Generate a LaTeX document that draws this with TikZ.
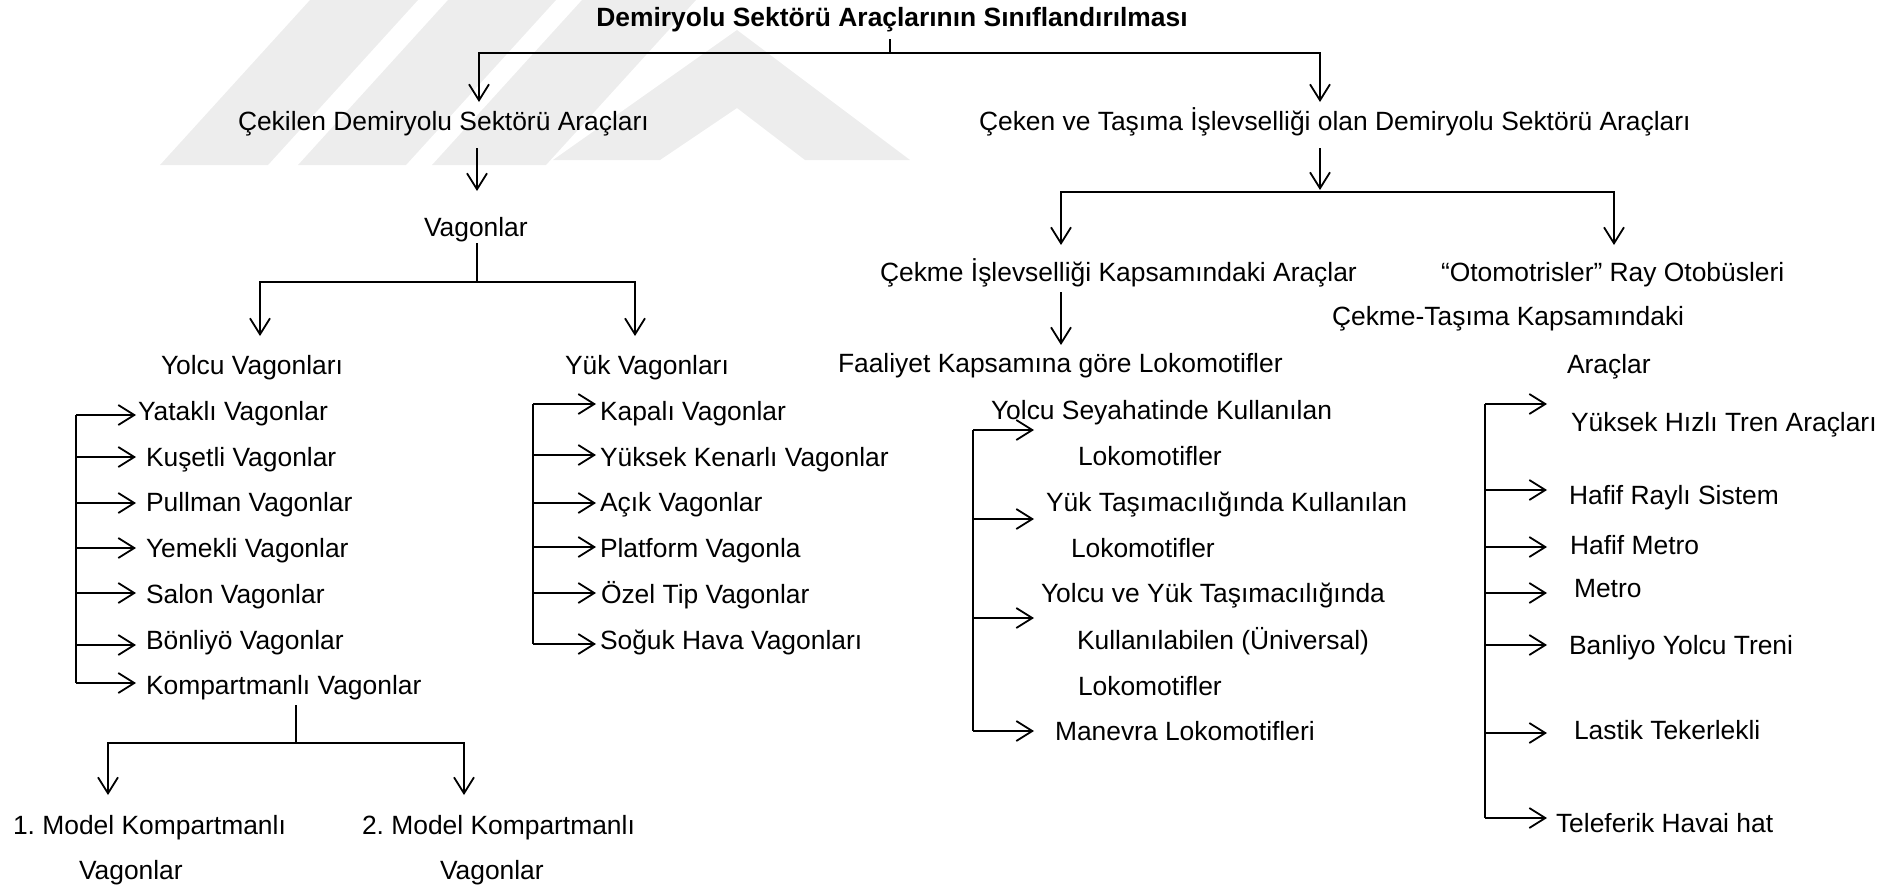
\documentclass[tikz,border=0pt]{standalone}
\usepackage{fontspec}
\setmainfont{Liberation Sans}
\usetikzlibrary{arrows.meta}
\frenchspacing
\begin{document}
\begin{tikzpicture}[x=1pt,y=-1pt,
  every node/.style={inner sep=0pt,outer sep=0pt,font=\fontsize{26.4}{30}\selectfont\frenchspacing},
  lbl/.style={anchor=base west},
  ctr/.style={anchor=base},
  ln/.style={line width=1.8pt},
  arr/.style={line width=1.8pt,-{Straight Barb[length=16pt,width=20pt]}},
  wm/.style={fill=black!7,draw=none}]
\useasboundingbox (0,0) rectangle (1903,887);
% watermark
\fill[wm] (160,165) -- (268,165) -- (418,0) -- (310,0) -- cycle;
\fill[wm] (298,165) -- (406,165) -- (556,0) -- (448,0) -- cycle;
\fill[wm] (432,165) -- (546,165) -- (696,0) -- (582,0) -- cycle;
\fill[wm] (553,160) -- (737,30) -- (910,160) -- (805,160) -- (737,108) -- (660,160) -- cycle;

% texts
\node[ctr,font=\fontsize{26.4}{30}\selectfont\bfseries] (title) at (892,26) {Demiryolu Sektörü Araçlarının Sınıflandırılması};
\node[lbl] (cekilen) at (238,130) {Çekilen Demiryolu Sektörü Araçları};
\node[lbl] (ceken) at (979,130) {Çeken ve Taşıma İşlevselliği olan Demiryolu Sektörü Araçları};
\node[lbl] (vagonlar) at (424,236) {Vagonlar};
\node[lbl] (yolcu) at (161,374) {Yolcu Vagonları};
\node[lbl] (yuk) at (565,374) {Yük Vagonları};

\node[lbl] (y1) at (138,420) {Yataklı Vagonlar};
\node[lbl] (y2) at (146,466) {Kuşetli Vagonlar};
\node[lbl] (y3) at (146,511) {Pullman Vagonlar};
\node[lbl] (y4) at (146,557) {Yemekli Vagonlar};
\node[lbl] (y5) at (146,603) {Salon Vagonlar};
\node[lbl] (y6) at (146,649) {Bönliyö Vagonlar};
\node[lbl] (y7) at (146,694) {Kompartmanlı Vagonlar};

\node[lbl] (k1) at (600,420) {Kapalı Vagonlar};
\node[lbl] (k2) at (600,466) {Yüksek Kenarlı Vagonlar};
\node[lbl] (k3) at (600,511) {Açık Vagonlar};
\node[lbl] (k4) at (600,557) {Platform Vagonla};
\node[lbl] (k5) at (601,603) {Özel Tip Vagonlar};
\node[lbl] (k6) at (600,649) {Soğuk Hava Vagonları};

\node[lbl] (m1) at (13,834) {1. Model Kompartmanlı};
\node[lbl] (m1b) at (79,879) {Vagonlar};
\node[lbl] (m2) at (362,834) {2. Model Kompartmanlı};
\node[lbl] (m2b) at (440,879) {Vagonlar};

\node[lbl] (cekme) at (880,281) {Çekme İşlevselliği Kapsamındaki Araçlar};
\node[lbl] (oto) at (1441,281) {“Otomotrisler” Ray Otobüsleri};
\node[lbl] (ctk) at (1332,325) {Çekme-Taşıma Kapsamındaki};
\node[lbl] (ctkb) at (1567,373) {Araçlar};
\node[lbl] (faal) at (838,372) {Faaliyet Kapsamına göre Lokomotifler};

\node[lbl] (l1) at (991,419) {Yolcu Seyahatinde Kullanılan};
\node[lbl] (l1b) at (1078,465) {Lokomotifler};
\node[lbl] (l2) at (1046,511) {Yük Taşımacılığında Kullanılan};
\node[lbl] (l2b) at (1071,557) {Lokomotifler};
\node[lbl] (l3) at (1041,602) {Yolcu ve Yük Taşımacılığında};
\node[lbl] (l3b) at (1077,649) {Kullanılabilen (Üniversal)};
\node[lbl] (l3c) at (1078,695) {Lokomotifler};
\node[lbl] (l4) at (1055,740) {Manevra Lokomotifleri};

\node[lbl] (r1) at (1571,431) {Yüksek Hızlı Tren Araçları};
\node[lbl] (r2) at (1569,504) {Hafif Raylı Sistem};
\node[lbl] (r3) at (1570,554) {Hafif Metro};
\node[lbl] (r4) at (1574,597) {Metro};
\node[lbl] (r5) at (1569,654) {Banliyo Yolcu Treni};
\node[lbl] (r6) at (1574,739) {Lastik Tekerlekli};
\node[lbl] (r7) at (1556,832) {Teleferik Havai hat};

% connectors: top level
\coordinate (t0) at (890,39);
\coordinate (t1) at (890,53);
\coordinate (tipCekilen) at (479,102);
\coordinate (tipCeken) at (1320,102);
\draw[ln] (t0) -- (t1);
\draw[arr] (t1) -| (tipCekilen);
\draw[arr] (t1) -| (tipCeken);

% left branch
\coordinate (a2s) at (477,148);
\coordinate (a2e) at (477,191);
\draw[arr] (a2s) -- (a2e);
\coordinate (v0) at (477,243);
\coordinate (v1) at (477,282);
\coordinate (tipYolcu) at (260,336);
\coordinate (tipYuk) at (635,336);
\draw[ln] (v0) -- (v1);
\draw[arr] (v1) -| (tipYolcu);
\draw[arr] (v1) -| (tipYuk);

% Yolcu list
\coordinate (yb0) at (76,415);
\coordinate (yb1) at (76,683);
\draw[ln] (yb0) -- (yb1);
\foreach \yy in {415,457,503,548,593,645,683}
  \draw[arr] (76,\yy) -- (136,\yy);

% Yuk list
\coordinate (kb0) at (533,404);
\coordinate (kb1) at (533,644);
\draw[ln] (kb0) -- (kb1);
\foreach \yy in {404,455,503,547,593,644}
  \draw[arr] (533,\yy) -- (596,\yy);

% Kompartmanli
\coordinate (c0) at (296,705);
\coordinate (c1) at (296,743);
\coordinate (tipM1) at (108,795);
\coordinate (tipM2) at (464,795);
\draw[ln] (c0) -- (c1);
\draw[arr] (c1) -| (tipM1);
\draw[arr] (c1) -| (tipM2);

% right branch
\coordinate (e0) at (1320,148);
\coordinate (e1) at (1320,192);
\coordinate (tipCekme) at (1061,245);
\coordinate (tipOto) at (1614,245);
\draw[arr] (e0) -- (1320,190);
\draw[arr] (e1) -| (tipCekme);
\draw[arr] (e1) -| (tipOto);
\coordinate (f0) at (1061,292);
\coordinate (f1) at (1061,345);
\draw[arr] (f0) -- (f1);

% Lokomotif list
\coordinate (lb0) at (973,430);
\coordinate (lb1) at (973,731);
\draw[ln] (lb0) -- (lb1);
\foreach \yy in {430,519,618,731}
  \draw[arr] (973,\yy) -- (1034,\yy);

% right list
\coordinate (rb0) at (1485,404);
\coordinate (rb1) at (1485,818);
\draw[ln] (rb0) -- (rb1);
\foreach \yy in {404,490,547,593,645,733,818}
  \draw[arr] (1485,\yy) -- (1547,\yy);
\end{tikzpicture}
\end{document}
